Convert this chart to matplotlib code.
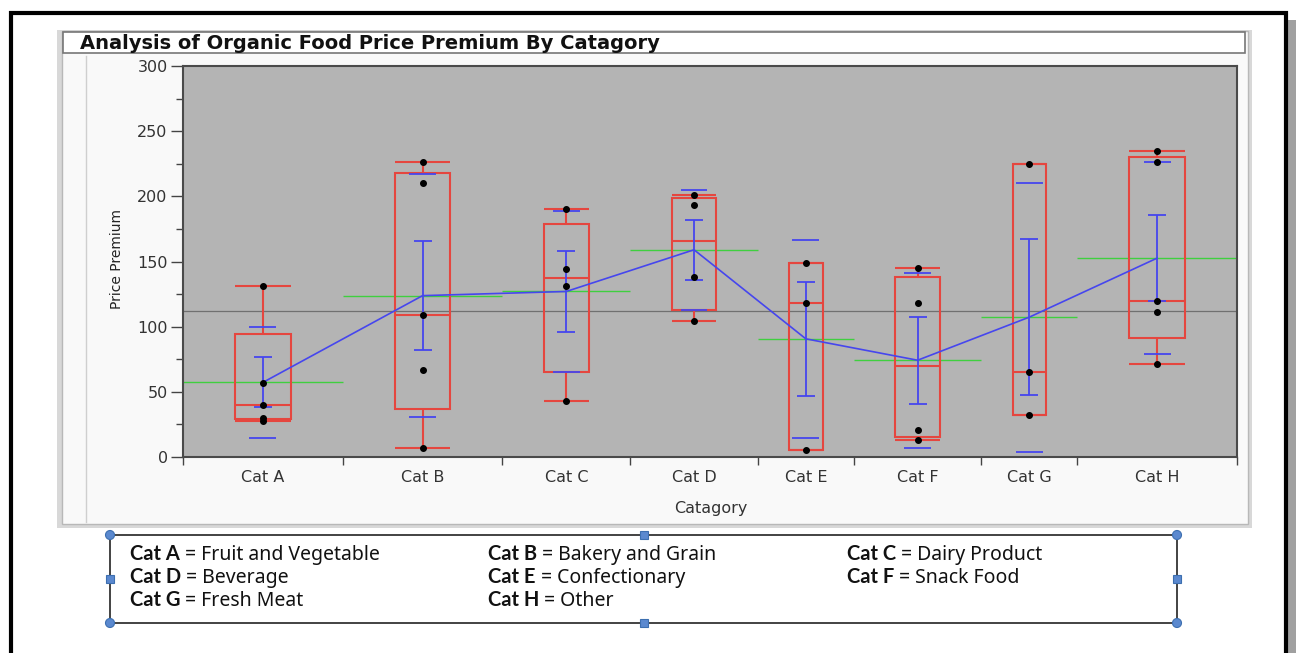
import numpy as np
import matplotlib
matplotlib.use('Agg')
from matplotlib import pyplot as plt
import matplotlib.patches as mpatches

# datos (precio premium por categoria)
cats = ['Cat A', 'Cat B', 'Cat C', 'Cat D', 'Cat E', 'Cat F', 'Cat G', 'Cat H']
cat_a = [131, 57, 40, 30, 28]
cat_b = [226, 210, 109, 67, 7]
cat_c = [190, 144, 131, 43]
cat_d = [201, 193, 138, 104]
cat_e = [149, 118, 5]
cat_f = [145, 118, 21, 13]
cat_g = [225, 65, 32]
cat_h = [235, 226, 120, 111, 71]
valores = [cat_a, cat_b, cat_c, cat_d, cat_e, cat_f, cat_g, cat_h]

leyenda_cat = ['Cat A', 'Cat B', 'Cat C', 'Cat D', 'Cat E', 'Cat F', 'Cat G', 'Cat H']
leyenda_txt = [' = Fruit and Vegetable', ' = Bakery and Grain', ' = Dairy Product',
               ' = Beverage', ' = Confectionary', ' = Snack Food',
               ' = Fresh Meat', ' = Other']

titulo = 'Analysis of Organic Food Price Premium By Catagory'

rojo = '#e5463f'
azul = '#4646ee'
verde = '#3fcf3f'

W, H = 1296, 653
fig = plt.figure(figsize=(W / 100, H / 100), dpi=100)
fig.patch.set_facecolor('white')

# lienzo en pixeles para el marco, panel y leyenda
canvas = fig.add_axes([0, 0, 1, 1], zorder=-1)
canvas.set_xlim(0, W)
canvas.set_ylim(H, 0)
canvas.axis('off')

# marco exterior
canvas.add_patch(mpatches.Rectangle((1288, 20), 8, H, color='#a0a0a0', lw=0))
canvas.plot([11, 11, 1286, 1286], [H + 5, 13, 13, H + 5], color='black', lw=3, solid_joinstyle='miter')

# panel JMP
canvas.add_patch(mpatches.Rectangle((57, 30), 1195, 498, fc='#d8d8d8', lw=0))
canvas.add_patch(mpatches.Rectangle((62, 31), 1186, 493, fc='#f9f9f9', ec='#b8b8b8', lw=1))
canvas.add_patch(mpatches.Rectangle((63, 32), 1182, 21, fc='white', ec='#777777', lw=1.2))
canvas.plot([86, 86], [56, 522], color='#cfcfcf', lw=1)
canvas.text(80, 43.5, titulo, fontsize=14, fontweight='bold', va='center', ha='left', color='#111111')

canvas.text(117, 259, 'Price Premium', rotation=90, ha='center', va='center', fontsize=10,
            family=['Liberation Sans Narrow', 'DejaVu Sans'], color='#222222')
canvas.text(711, 509, 'Catagory', ha='center', va='center', fontsize=11.5, color='#333333')

# cuadro de leyenda con manejadores
canvas.add_patch(mpatches.Rectangle((110, 535), 1067, 88, fill=False, ec='#222222', lw=1.2))
for (hx, hy) in [(110, 535), (1177, 535), (110, 623), (1177, 623)]:
    canvas.add_patch(mpatches.Circle((hx, hy), 4.5, fc='#5b89cf', ec='#3d6fb0', lw=0.8))
for (hx, hy) in [(644, 535), (644, 623), (110, 579), (1177, 579)]:
    canvas.add_patch(mpatches.Rectangle((hx - 4, hy - 4), 8, 8, fc='#5b89cf', ec='#3d6fb0', lw=0.8))

col_x = [130, 488, 847]
fila_y = [560, 583, 606]
for i in range(len(leyenda_cat)):
    x = col_x[i % 3]
    y = fila_y[i // 3]
    t = canvas.text(x, y, leyenda_cat[i], fontsize=14.5, fontweight='bold', family='Lato',
                    va='baseline', ha='left', color='#111111')
    canvas.annotate(leyenda_txt[i], xy=(1, y), xycoords=(t, 'data'), va='baseline', ha='left',
                    fontsize=14, family='Noto Sans', color='#111111')

# grafico principal
ax = fig.add_axes([183 / W, 1 - 457 / H, (1237 - 183) / W, (457 - 66) / H])
ax.set_facecolor('#b4b4b4')

n = np.array([len(v) for v in valores])
bordes = np.concatenate([[0], np.cumsum(n)])
centros = bordes[:-1] + n / 2.0

medias = []
for i, v in enumerate(valores):
    v = np.array(v, dtype=float)
    c = centros[i]
    w = 0.35 * n[i]
    q1, med, q3 = np.percentile(v, [25, 50, 75], method='weibull')
    iqr = q3 - q1
    lo = v[v >= q1 - 1.5 * iqr].min()
    hi = v[v <= q3 + 1.5 * iqr].max()
    # caja
    ax.add_patch(mpatches.Rectangle((c - w / 2, q1), w, q3 - q1, fill=False, ec=rojo, lw=1.5, zorder=3))
    ax.hlines([med, lo, hi], c - w / 2, c + w / 2, color=rojo, lw=1.5, zorder=3)
    ax.vlines(c, q3, hi, color=rojo, lw=1.5, zorder=3)
    ax.vlines(c, lo, q1, color=rojo, lw=1.5, zorder=3)

    m = v.mean()
    sd = v.std(ddof=1)
    se = sd / np.sqrt(len(v))
    medias.append(m)
    ax.hlines(m, bordes[i], bordes[i + 1], color=verde, lw=1.0, zorder=2)
    ax.errorbar(c, m, yerr=se, color=azul, lw=1.3, capsize=6.5, capthick=1.3, zorder=4)
    ax.hlines([m - sd, m + sd], c - 0.42, c + 0.42, color=azul, lw=1.3, zorder=4)
    ax.plot([c] * len(v), v, 'o', color='black', ms=4, zorder=5)

gran_media = np.concatenate(valores).mean()
ax.axhline(gran_media, color='#707070', lw=0.9, zorder=1)
ax.plot(centros, medias, color=azul, lw=1.2, zorder=4)

ax.set_xlim(0, bordes[-1])
ax.set_ylim(0, 300)
ax.set_yticks(np.arange(0, 301, 50))
ax.set_yticks(np.arange(25, 300, 50), minor=True)
ax.tick_params(axis='y', which='major', length=9, width=1, color='#444444', labelsize=11.5,
               labelcolor='#333333', pad=2)
ax.tick_params(axis='y', which='minor', length=5, width=1, color='#444444')

ax.set_xticks(bordes)
ax.set_xticklabels([])
ax.tick_params(axis='x', which='major', length=6, width=1, color='#444444')
ax.set_xticks(centros, minor=True)
ax.set_xticklabels(cats, minor=True)
ax.tick_params(axis='x', which='minor', length=0, labelsize=11.5, labelcolor='#333333', pad=9)

for s in ax.spines.values():
    s.set_color('#4a4a4a')
    s.set_linewidth(1.5)

fig.savefig('out.png', dpi=100)
